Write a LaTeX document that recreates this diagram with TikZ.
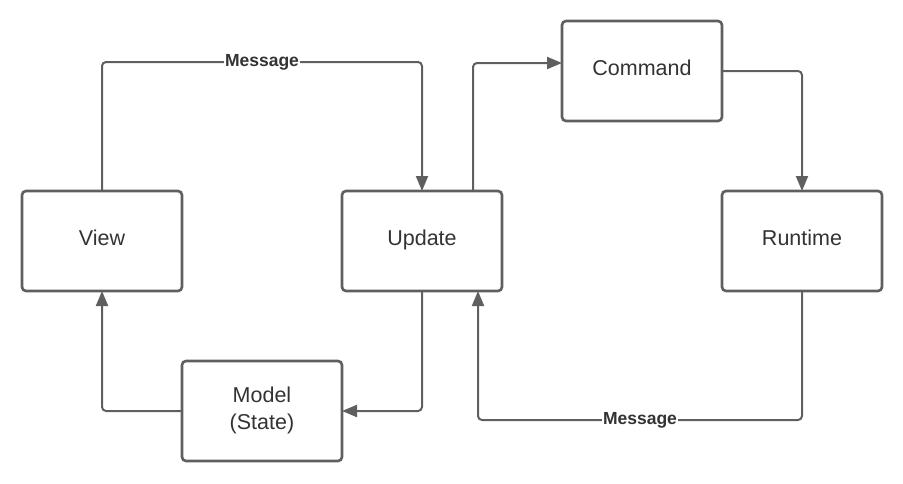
\documentclass[tikz,border=0pt]{standalone}
\usepackage{fontspec}
\setmainfont{Liberation Sans}
\usetikzlibrary{arrows.meta}
\definecolor{edge}{HTML}{5F5F5F}
\definecolor{ink}{HTML}{333333}

\begin{document}
\begin{tikzpicture}[x=1pt,y=-1pt,>={Triangle[length=15pt,width=12pt]},
  box/.style={draw=edge,line width=2.6pt,rounded corners=4pt,minimum width=160pt,
    minimum height=100pt,outer sep=0pt,text=ink,align=center,text depth=6pt,
    font=\fontsize{21.5}{27}\selectfont},
  flow/.style={draw=edge,line width=2pt,rounded corners=4pt,->},
  lbl/.style={fill=white,inner sep=1pt,text=ink,font=\bfseries\fontsize{17.5}{20}\selectfont}]
\useasboundingbox (0,0) rectangle (903,483);
\node (view)    at (102,241) [box] {View};
\node (update)  at (422,241) [box] {Update};
\node (runtime) at (802,241) [box] {Runtime};
\node (command) at (642,71)  [box] {Command};
\node (model)   at (262,411) [box] {Model\\(State)};
\draw [flow] (view.north) -- ++(0,-129) -| node[lbl,pos=0.25] {Message} (update.north);
\draw [flow] ([xshift=51pt]update.north) |- ([yshift=8pt]command.west);
\draw [flow] (command.east) -| (runtime.north);
\draw [flow] (runtime.south) -- ++(0,129) -| node[lbl,pos=0.25] {Message} ([xshift=56pt]update.south);
\draw [flow] (update.south) |- (model.east);
\draw [flow] (model.west) -| (view.south);
\end{tikzpicture}
\end{document}
